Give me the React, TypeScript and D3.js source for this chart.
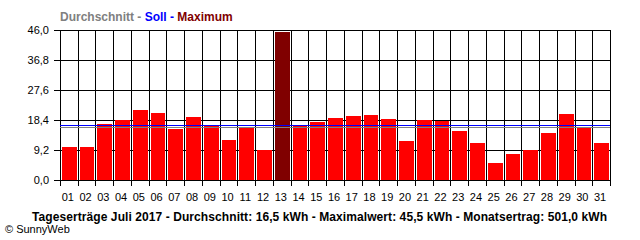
import React from "react";
import * as d3 from "d3";

const days = ["01","02","03","04","05","06","07","08","09","10","11","12","13","14","15","16","17","18","19","20","21","22","23","24","25","26","27","28","29","30","31"];
const yields = [10.1,10.1,17.2,18.4,21.5,20.6,15.7,19.4,16.8,12.3,16.2,9.2,45.5,16.8,17.8,19.0,19.6,19.9,18.7,12.0,18.4,18.2,15.0,11.3,5.2,8.0,9.2,14.4,20.2,16.2,11.3];
const yTicks = [0, 9.2, 18.4, 27.6, 36.8, 46.0];
const average = 16.2;
const target = 16.8;
const maxIndex = 12;
const footer = "Tageserträge Juli 2017 - Durchschnitt: 16,5 kWh - Maximalwert: 45,5 kWh - Monatsertrag: 501,0 kWh";

export default function App() {
  const W = 640, H = 240;
  const left = 60, right = 610, top = 30, bottom = 180;
  const x = d3.scaleBand<string>().domain(days).range([left, right]).paddingInner(0).paddingOuter(0);
  const y = d3.scaleLinear().domain([0, 46]).range([bottom, top]);
  const bw = x.bandwidth();
  const font = "Arial, 'Liberation Sans', sans-serif";
  const fmt = (v: number) => v.toFixed(1).replace(".", ",");
  const boundaries = d3.range(days.length + 1).map(i => left + i * bw);
  return (
    <svg width={W} height={H} style={{ position: "absolute", left: 0, top: 0, background: "#fff" }} shapeRendering="crispEdges">
      <rect x={0} y={0} width={W} height={H} fill="#fff" />
      <text x={60} y={21} fontFamily={font} fontSize={12} fontWeight="bold">
        <tspan fill="#808080">Durchschnitt - </tspan>
        <tspan fill="#0000ff">Soll - </tspan>
        <tspan fill="#800000">Maximum</tspan>
      </text>
      {yTicks.map(t => (
        <line key={"h" + t} x1={left - 6} x2={right} y1={Math.round(y(t)) + 0.5} y2={Math.round(y(t)) + 0.5} stroke="#000" />
      ))}
      {boundaries.map((bx, i) => (
        <line key={"v" + i} x1={Math.round(bx) + 0.5} x2={Math.round(bx) + 0.5} y1={top} y2={bottom + 6} stroke="#000" />
      ))}
      {yields.map((v, i) => {
        const x0 = Math.round((x(days[i]) as number) + 2);
        const x1 = Math.round((x(days[i]) as number) + bw - 1);
        return (
          <rect key={"b" + i} x={x0} y={Math.round(y(v))} width={x1 - x0} height={Math.round(bottom) - Math.round(y(v))}
            fill={i === maxIndex ? "#800000" : "#ff0000"} />
        );
      })}
      <line x1={left} x2={right} y1={Math.round(y(target)) + 0.5} y2={Math.round(y(target)) + 0.5} stroke="#0000ff" />
      <line x1={left} x2={right} y1={Math.round(y(average)) + 0.5} y2={Math.round(y(average)) + 0.5} stroke="#808080" />
      <line x1={left} x2={right + 1} y1={bottom + 0.5} y2={bottom + 0.5} stroke="#000" />
      {yTicks.map(t => (
        <text key={"yl" + t} x={49} y={y(t) + 4} textAnchor="end" fontFamily={font} fontSize={11} fill="#000">{fmt(t)}</text>
      ))}
      {days.map(d => (
        <text key={"xl" + d} x={(x(d) as number) + bw / 2 - 1} y={201} textAnchor="middle" fontFamily={font} fontSize={11} fill="#000">{d}</text>
      ))}
      <text x={32} y={221} fontFamily={font} fontSize={12} fontWeight="bold" fill="#000" textLength={575} lengthAdjust="spacing">{footer}</text>
      <text x={5} y={233} fontFamily={font} fontSize={11} fill="#000">© SunnyWeb</text>
    </svg>
  );
}
